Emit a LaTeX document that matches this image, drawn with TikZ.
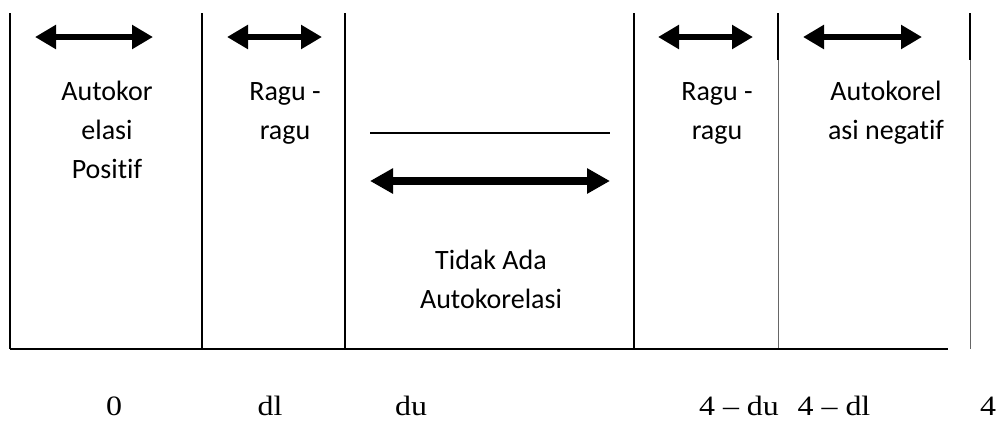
\documentclass[tikz,border=0pt]{standalone}
\usepackage{fontspec}
\setmainfont{Liberation Serif}
\newfontfamily\carlito[Ligatures=NoCommon]{Carlito}
\usetikzlibrary{arrows.meta}
\tikzset{
  sep/.style={line width=2pt, black},
  septhin/.style={line width=1pt, black!60},
  dbl/.style={line width=6.5pt, {Triangle[length=21pt,width=23pt]}-{Triangle[length=21pt,width=23pt]}},
  dblbig/.style={line width=7.5pt, {Triangle[length=23pt,width=24pt]}-{Triangle[length=23pt,width=24pt]}},
  lbl/.style={font=\carlito\fontsize{28}{39}\selectfont, align=center, anchor=base, inner sep=0pt},
  axl/.style={font=\fontsize{28}{32}\selectfont, anchor=base, inner sep=0pt, text depth=0pt}
}
\newcommand{\axtext}[1]{\scalebox{1.14}[1]{#1}}
\begin{document}
\begin{tikzpicture}[x=1pt,y=-1pt]
\useasboundingbox (0,0) rectangle (999,421);
% separator tops and bottoms
\coordinate (t0) at (10,13);   \coordinate (b0) at (10,349);
\coordinate (t1) at (202,13);  \coordinate (b1) at (202,349);
\coordinate (t2) at (345,13);  \coordinate (b2) at (345,349);
\coordinate (t3) at (634,13);  \coordinate (b3) at (634,349);
\coordinate (t4) at (778,13);  \coordinate (m4) at (778,60); \coordinate (b4) at (778,349);
\coordinate (t5) at (970,13);  \coordinate (m5) at (970,60); \coordinate (b5) at (970,349);
\coordinate (axE) at (948,349);
\draw[sep] (t0) -- (b0);
\draw[sep] (t1) -- (b1);
\draw[sep] (t2) -- (b2);
\draw[sep] (t3) -- (b3);
\draw[sep] (t4) -- (m4);
\draw[septhin] (m4) -- (b4);
\draw[sep] (t5) -- (m5);
\draw[septhin] (m5) -- (b5);
% axis
\draw[line width=2.5pt] (b0) -- (axE);
% arrows
\coordinate (a1l) at (35,37);  \coordinate (a1r) at (153,37);
\coordinate (a2l) at (227,37); \coordinate (a2r) at (322,37);
\coordinate (a4l) at (658,37); \coordinate (a4r) at (753,37);
\coordinate (a5l) at (803,37); \coordinate (a5r) at (922,37);
\coordinate (a3l) at (370,181); \coordinate (a3r) at (610,181);
\coordinate (hl) at (370,133); \coordinate (hr) at (610,133);
\draw[dbl] (a1l) -- (a1r);
\draw[dbl] (a2l) -- (a2r);
\draw[dbl] (a4l) -- (a4r);
\draw[dbl] (a5l) -- (a5r);
\draw[dblbig] (a3l) -- (a3r);
\draw[line width=1.5pt] (hl) -- (hr);
% region labels (anchored at the baseline of their last line)
\node[lbl] (pos) at (107,178) {Autokor\\elasi\\Positif};
\node[lbl] (rg1) at (285,139) {Ragu -\\ragu};
\node[lbl] (tdk) at (491,308) {Tidak Ada\\Autokorelasi};
\node[lbl] (rg2) at (717,139) {Ragu -\\ragu};
\node[lbl] (neg) at (886,139) {Autokorel\\asi negatif};
% axis labels
\node[axl] (v0) at (114,415) {\axtext{0}};
\node[axl] (v1) at (270,415) {\axtext{dl}};
\node[axl] (v2) at (411,415) {\axtext{du}};
\node[axl] (v3) at (739,415) {\axtext{4 – du}};
\node[axl] (v4) at (834,415) {\axtext{4 – dl}};
\node[axl] (v5) at (988,415) {\axtext{4}};
\end{tikzpicture}
\end{document}
